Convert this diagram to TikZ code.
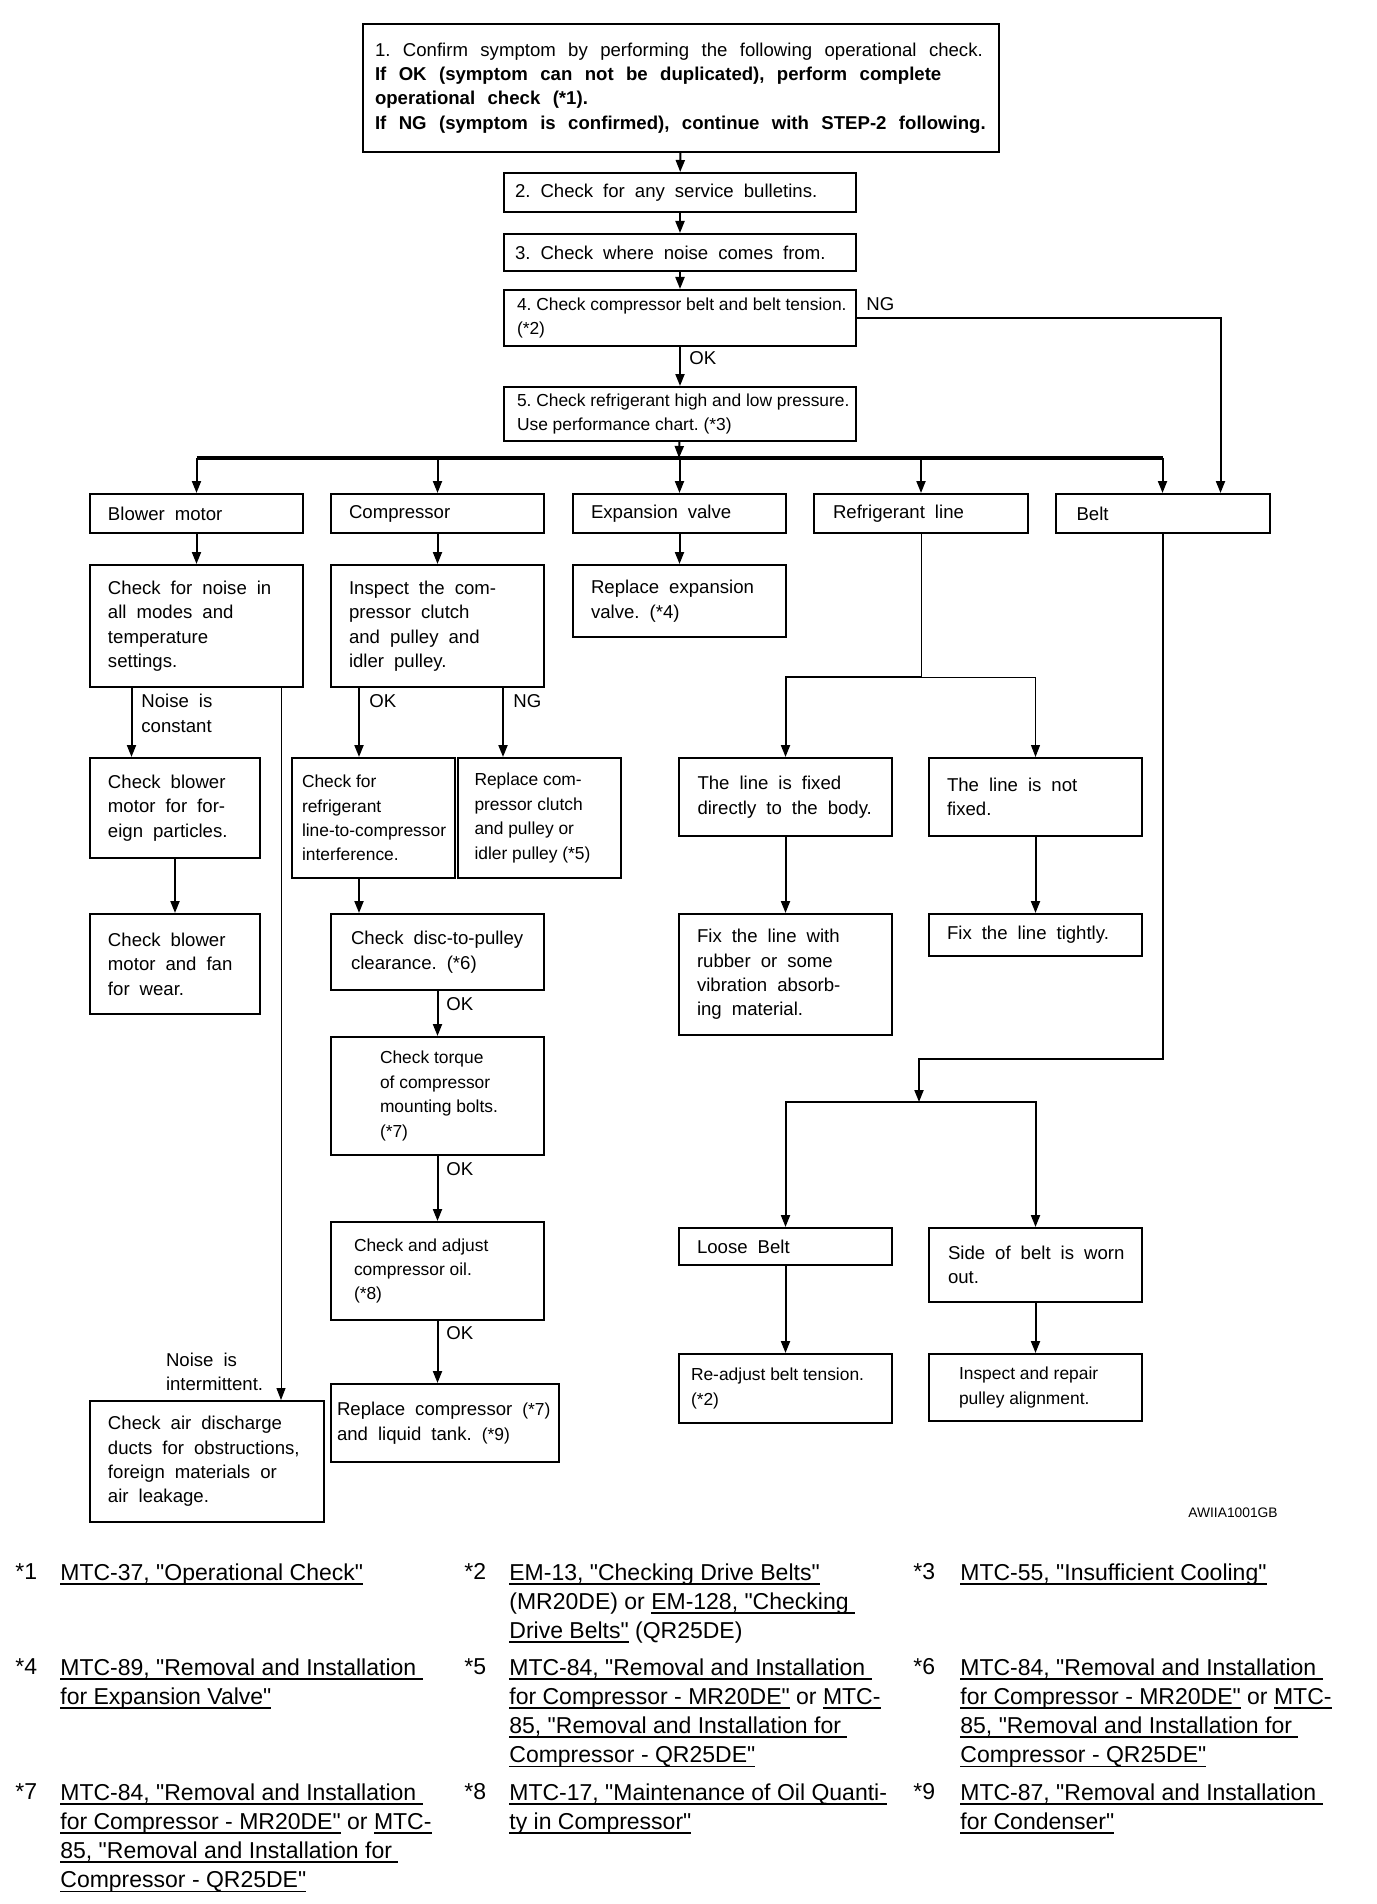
\documentclass[tikz,border=0pt]{standalone}
\usepackage{fontspec}
\setmainfont{Liberation Sans}[Ligatures=TeXOff]
\usetikzlibrary{positioning}
\usetikzlibrary{arrows.meta}

\newcommand{\widefont}{\fontsize{9.3}{12.2}\selectfont\spaceskip=5pt\relax}
\newcommand{\narrowfont}{\fontsize{8.7}{12.2}\selectfont}
\newcommand{\notefont}{\fontsize{11.5}{14.6}\selectfont}
\newcommand{\lnk}[1]{\leavevmode\setbox0=\hbox{#1}\rlap{\rule[-2.3pt]{\wd0}{0.8pt}}\box0\relax}

\begin{document}
\begin{tikzpicture}
  [
    x=0.5pt, y=-0.5pt,
    box/.style={draw=black, line width=1pt, anchor=north west,
      inner xsep=0pt, inner ysep=0pt, align=left, font=\widefont,
      execute at begin node={\baselineskip=12.2pt\spaceskip=5pt\xspaceskip=5pt\rightskip=-30pt plus 1fil\relax}},
    condensed/.style={font=\narrowfont,
      execute at begin node={\spaceskip=2.4pt\xspaceskip=2.4pt\relax}},
    lskip/.style={execute at begin node={\leftskip=#1\relax}},
    lbl/.style={anchor=west, inner sep=0pt, align=left, font=\widefont},
    fnote/.style={anchor=north west, inner sep=0pt, align=left, font=\notefont},
    arr/.style={line width=1pt, -{Triangle[length=6pt,width=4.5pt]}},
    arrthin/.style={line width=0.5pt, -{Triangle[length=6pt,width=4.5pt]}},
    thinline/.style={line width=0.5pt}
  ]
  \fill[white] (0,0) rectangle (1376,1904);
  \useasboundingbox (0,0) rectangle (1376,1904);

  % main steps
  \node (top) at (362,23) [box, text width=318pt, minimum height=64pt, lskip=6pt,
      execute at begin node={\spaceskip=6.2pt\xspaceskip=6.2pt\relax}]
    {1. Confirm symptom by performing the following operational check.\\
     \textbf{If OK (symptom can not be duplicated), perform complete}\\
     \textbf{operational check (*1).}\\
     \textbf{If NG (symptom is confirmed), continue with STEP-2 following.}};
  \node (bull)  at (503,172) [box, text width=176pt, minimum height=19.5pt, lskip=5.5pt] {2. Check for any service bulletins.};
  \node (where) at (503,233) [box, text width=176pt, minimum height=18.5pt, lskip=5.5pt] {3. Check where noise comes from.};
  \node (belt4) at (503,289) [box, condensed, text width=176pt, minimum height=28pt, lskip=6.5pt]
    {4. Check compressor belt and belt tension.\\(*2)};
  \node (press) at (503,386) [box, condensed, text width=176pt, minimum height=27pt, lskip=6.5pt]
    {5. Check refrigerant high and low pressure.\\Use performance chart. (*3)};

  % parts
  \node (blower) at (89,493)    [box, text width=106.5pt, minimum height=19.5pt, lskip=9pt] {Blower motor};
  \node (comp)   at (330,493)   [box, text width=106.5pt, minimum height=19.5pt, lskip=9pt] {Compressor};
  \node (exp)    at (572,493)   [box, text width=106.5pt, minimum height=19.5pt, lskip=9pt] {Expansion valve};
  \node (refl)   at (813,493)   [box, text width=107pt, minimum height=19.5pt, lskip=9.5pt] {Refrigerant line};
  \node (beltc)  at (1054.5,493) [box, text width=107pt, minimum height=19.5pt, lskip=10.5pt] {Belt};

  % blower motor
  \node (noise)   at (89,564)  [box, text width=106.5pt, minimum height=61pt, lskip=9pt]
    {Check for noise in\\all modes and\\temperature\\settings.};
  \node (foreign) at (89,757)  [box, text width=85pt, minimum height=50pt, lskip=9pt]
    {Check blower\\motor for for-\\eign particles.};
  \node (fan)     at (89,913)  [box, text width=85pt, minimum height=50pt, lskip=9pt]
    {Check blower\\motor and fan\\for wear.};
  \node (air)     at (89,1400) [box, text width=117pt, minimum height=60.5pt, lskip=9pt]
    {Check air discharge\\ducts for obstructions,\\foreign materials or\\air leakage.};

  % compressor
  \node (insp)      at (330,564)   [box, text width=106.5pt, minimum height=61pt, lskip=9pt]
    {Inspect the com-\\pressor clutch\\and pulley and\\idler pulley.};
  \node (refint)    at (291,757)   [box, condensed, text width=81.5pt, minimum height=60pt, lskip=5pt]
    {Check for\\refrigerant\\line-to-compressor\\interference.};
  \node (repclutch) at (456.5,757) [box, condensed, text width=81.75pt, minimum height=60pt, lskip=8.5pt]
    {Replace com-\\pressor clutch\\and pulley or\\idler pulley (*5)};
  \node (disc)      at (330,913)   [box, text width=106.5pt, minimum height=38pt, lskip=10pt]
    {Check disc-to-pulley\\clearance. (*6)};
  \node (torque)    at (330,1036)  [box, condensed, text width=106.5pt, minimum height=59pt, lskip=24.5pt]
    {Check torque\\of compressor\\mounting bolts.\\(*7)};
  \node (oil)       at (330,1221)  [box, condensed, text width=106.5pt, minimum height=49pt, lskip=11.5pt]
    {Check and adjust\\compressor oil.\\(*8)};
  \node (repcomp)   at (330,1383)  [box, text width=114pt, minimum height=39pt, lskip=3pt]
    {Replace compressor~{\narrowfont(*7)}\\and liquid tank. {\narrowfont(*9)}};

  % expansion valve
  \node (repexp) at (572,564) [box, text width=106.5pt, minimum height=36pt, lskip=9pt]
    {Replace expansion\\valve. (*4)};

  % refrigerant line
  \node (fixed)    at (678,757) [box, text width=106.5pt, minimum height=39pt, lskip=9.25pt]
    {The line is fixed\\directly to the body.};
  \node (notfixed) at (928,757) [box, text width=106.5pt, minimum height=39pt, lskip=9pt]
    {The line is not\\fixed.};
  \node (rubber)   at (678,913) [box, text width=106.5pt, minimum height=60.5pt, lskip=9pt]
    {Fix the line with\\rubber or some\\vibration absorb-\\ing material.};
  \node (fixtight) at (928,913) [box, text width=106.5pt, minimum height=21pt, lskip=9pt]
    {Fix the line tightly.};

  % belt
  \node (loose)  at (678,1227) [box, text width=106.5pt, minimum height=18.5pt, lskip=9pt] {Loose Belt};
  \node (worn)   at (928,1227) [box, text width=106.5pt, minimum height=36.75pt, lskip=9.5pt]
    {Side of belt is worn\\out.};
  \node (readj)  at (678,1353) [box, condensed, text width=106.5pt, minimum height=34.5pt, lskip=6pt]
    {Re-adjust belt tension.\\(*2)};
  \node (pulley) at (928,1353) [box, condensed, text width=106.5pt, minimum height=33.5pt, lskip=15pt]
    {Inspect and repair\\pulley alignment.};

  % main flow
  \draw[arr] (top) -- (bull);
  \draw[arr] (bull) -- (where);
  \draw[arr] (where) -- (belt4);
  \draw[arr] (belt4) -- (press);
  \node (ok1) [lbl] at (689,358) {OK};
  \draw[arr] (belt4.east) -| ([xshift=29pt]beltc.north);
  \node (ng1) [lbl] at (866,304) {NG};
  \coordinate (bus) at (679,458);
  \draw[arr] (press) -- (bus);
  \draw[line width=2pt] (blower |- bus) -- (beltc |- bus);
  \foreach \part in {blower,comp,exp,refl,beltc}
    \draw[arr] (\part |- bus) -- (\part);

  % blower motor branch
  \draw[arr] (blower) -- (noise);
  \draw[arr] (131.5,0 |- noise.south) -- (131.5,0 |- foreign.north);
  \node (const) [lbl] at (141,713.5) {Noise is\\constant};
  \draw[arr] (foreign) -- (fan);
  \draw[arrthin] (281,0 |- noise.south) -- (281,0 |- air.north);
  \node (inter) [lbl] at (165.6,1372) {Noise is\\intermittent.};

  % compressor branch
  \draw[arr] (comp) -- (insp);
  \draw[arr] (359,0 |- insp.south) -- (359,0 |- refint.north);
  \node (ok2) [lbl] at (369,701) {OK};
  \draw[arr] (503,0 |- insp.south) -- (503,0 |- repclutch.north);
  \node (ng2) [lbl] at (513,701) {NG};
  \draw[arr] (359,0 |- refint.south) -- (359,0 |- disc.north);
  \draw[arr] (disc) -- (torque);
  \node (ok3) [lbl] at (446,1004) {OK};
  \draw[arr] (torque) -- (oil);
  \node (ok4) [lbl] at (446,1169) {OK};
  \draw[arr] (oil) -- (oil |- repcomp.north);
  \node (ok5) [lbl] at (446,1333) {OK};

  % expansion valve branch
  \draw[arr] (exp) -- (repexp);

  % refrigerant line branch
  \coordinate (rsplit) at (refl.south |- 0,677);
  \draw[thinline] (refl.south) -- (rsplit);
  \draw[arr] (rsplit) -| (fixed);
  \draw[arrthin] (rsplit) -| (notfixed);
  \draw[arr] (fixed) -- (rubber);
  \draw[arr] (notfixed) -- (fixtight);

  % belt branch
  \coordinate (bsplit) at (919,1102);
  \draw[arr] (beltc.south) -- ++(0,525) -| (bsplit);
  \draw[arr] (bsplit) -| (loose);
  \draw[arr] (bsplit) -| (worn);
  \draw[arr] (loose) -- (readj);
  \draw[arr] (worn) -- (pulley);

  \node (code) [anchor=west, inner sep=0pt, font=\fontsize{6.9}{8}\selectfont] at (1188,1513) {AWIIA1001GB};

  % references
  \node (s1) [fnote] at (15,1563)  {*1};
  \node (n1) [fnote] at (60,1563)  {\lnk{MTC-37, "Operational Check"}};
  \node (s2) [fnote] at (464,1563) {*2};
  \node (n2) [fnote] at (509,1563) {\lnk{EM-13, "Checking Drive Belts"}\\
    (MR20DE) or \lnk{EM-128, "Checking }\\
    \lnk{Drive Belts"} (QR25DE)};
  \node (s3) [fnote] at (913,1563) {*3};
  \node (n3) [fnote] at (960,1563) {\lnk{MTC-55, "Insufficient Cooling"}};

  \node (s4) [fnote] at (15,1658)  {*4};
  \node (n4) [fnote] at (60,1658)  {\lnk{MTC-89, "Removal and Installation }\\
    \lnk{for Expansion Valve"}};
  \node (s5) [fnote] at (464,1658) {*5};
  \node (n5) [fnote] at (509,1658) {\lnk{MTC-84, "Removal and Installation }\\
    \lnk{for Compressor - MR20DE"} or \lnk{MTC-}\\
    \lnk{85, "Removal and Installation for }\\
    \lnk{Compressor - QR25DE"}};
  \node (s6) [fnote] at (913,1658) {*6};
  \node (n6) [fnote] at (960,1658) {\lnk{MTC-84, "Removal and Installation }\\
    \lnk{for Compressor - MR20DE"} or \lnk{MTC-}\\
    \lnk{85, "Removal and Installation for }\\
    \lnk{Compressor - QR25DE"}};

  \node (s7) [fnote] at (15,1783)  {*7};
  \node (n7) [fnote] at (60,1783)  {\lnk{MTC-84, "Removal and Installation }\\
    \lnk{for Compressor - MR20DE"} or \lnk{MTC-}\\
    \lnk{85, "Removal and Installation for }\\
    \lnk{Compressor - QR25DE"}};
  \node (s8) [fnote] at (464,1783) {*8};
  \node (n8) [fnote] at (509,1783) {\lnk{MTC-17, "Maintenance of Oil Quanti-}\\
    \lnk{ty in Compressor"}};
  \node (s9) [fnote] at (913,1783) {*9};
  \node (n9) [fnote] at (960,1783) {\lnk{MTC-87, "Removal and Installation }\\
    \lnk{for Condenser"}};
\end{tikzpicture}
\end{document}
